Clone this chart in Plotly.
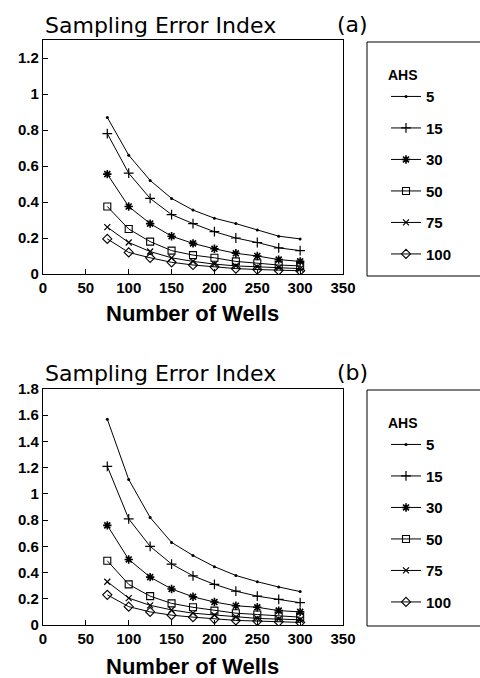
import plotly.graph_objects as go

wells = [75, 100, 125, 150, 175, 200, 225, 250, 275, 300]
ahs_labels = ["5", "15", "30", "50", "75", "100"]

# Panel (a)
a_5 = [0.87, 0.66, 0.52, 0.42, 0.355, 0.31, 0.28, 0.245, 0.21, 0.195]
a_15 = [0.78, 0.56, 0.42, 0.33, 0.28, 0.235, 0.20, 0.175, 0.145, 0.13]
a_30 = [0.555, 0.375, 0.28, 0.21, 0.17, 0.14, 0.115, 0.10, 0.08, 0.07]
a_50 = [0.375, 0.25, 0.18, 0.13, 0.105, 0.09, 0.07, 0.06, 0.05, 0.045]
a_75 = [0.26, 0.175, 0.125, 0.09, 0.07, 0.055, 0.045, 0.04, 0.035, 0.03]
a_100 = [0.195, 0.12, 0.09, 0.065, 0.05, 0.04, 0.03, 0.025, 0.02, 0.018]

# Panel (b)
b_5 = [1.57, 1.11, 0.82, 0.63, 0.53, 0.445, 0.378, 0.33, 0.29, 0.255]
b_15 = [1.21, 0.81, 0.60, 0.465, 0.375, 0.31, 0.258, 0.22, 0.195, 0.17]
b_30 = [0.76, 0.50, 0.365, 0.275, 0.215, 0.175, 0.147, 0.135, 0.11, 0.10]
b_50 = [0.49, 0.31, 0.22, 0.165, 0.135, 0.11, 0.09, 0.08, 0.07, 0.06]
b_75 = [0.33, 0.205, 0.15, 0.115, 0.09, 0.075, 0.06, 0.05, 0.045, 0.04]
b_100 = [0.23, 0.14, 0.10, 0.075, 0.06, 0.045, 0.035, 0.03, 0.025, 0.02]

panel_a = [a_5, a_15, a_30, a_50, a_75, a_100]
panel_b = [b_5, b_15, b_30, b_50, b_75, b_100]

x_ticks = [0, 50, 100, 150, 200, 250, 300, 350]
ya_ticks = [0, 0.2, 0.4, 0.6, 0.8, 1, 1.2]
yb_ticks = [0, 0.2, 0.4, 0.6, 0.8, 1, 1.2, 1.4, 1.6, 1.8]

W, H = 480, 678
FONT = "Liberation Sans, Arial, sans-serif"

markers = [
    dict(symbol="circle", size=3, color="black"),
    dict(symbol="cross-thin-open", size=7, color="black", line=dict(color="black", width=1.2)),
    dict(symbol="asterisk-open", size=7, color="black", line=dict(color="black", width=1.6)),
    dict(symbol="square-open", size=7, color="black", line=dict(color="black", width=1.1)),
    dict(symbol="x-thin-open", size=6, color="black", line=dict(color="black", width=1.2)),
    dict(symbol="diamond-open", size=7, color="black", line=dict(color="black", width=1.1)),
]

fig = go.Figure()

for i, (lab, ys) in enumerate(zip(ahs_labels, panel_a)):
    fig.add_trace(go.Scatter(
        x=wells, y=ys, mode="lines+markers", name=lab,
        line=dict(color="black", width=1), marker=markers[i],
        xaxis="x", yaxis="y", legend="legend", legendgroup="a" + lab,
    ))
for i, (lab, ys) in enumerate(zip(ahs_labels, panel_b)):
    fig.add_trace(go.Scatter(
        x=wells, y=ys, mode="lines+markers", name=lab,
        line=dict(color="black", width=1), marker=markers[i],
        xaxis="x2", yaxis="y2", legend="legend2", legendgroup="b" + lab,
    ))

def px_x(p):
    return p / W

def px_y(p):
    return 1 - p / H

tickfont = dict(family=FONT, size=15, color="black", weight="bold")
axis_common = dict(
    showline=True, linecolor="black", linewidth=1.2, mirror=True,
    ticks="inside", ticklen=5, tickcolor="black", tickwidth=1,
    showgrid=False, zeroline=False, tickfont=tickfont, automargin=False,
)

x_dom = [px_x(43), px_x(343)]
fig.update_layout(
    width=W, height=H,
    margin=dict(l=0, r=0, t=0, b=0),
    paper_bgcolor="white", plot_bgcolor="white",
    xaxis=dict(domain=x_dom, range=[0, 350], tickvals=x_ticks, anchor="y", **axis_common),
    yaxis=dict(domain=[px_y(274), px_y(40)], range=[0, 1.3], tickvals=ya_ticks, anchor="x", **axis_common),
    xaxis2=dict(domain=x_dom, range=[0, 350], tickvals=x_ticks, anchor="y2", **axis_common),
    yaxis2=dict(domain=[px_y(625), px_y(389)], range=[0, 1.8], tickvals=yb_ticks, anchor="x2", **axis_common),
)

legend_common = dict(
    bgcolor="rgba(0,0,0,0)", borderwidth=0,
    font=dict(family=FONT, size=15, color="black", weight="bold"),
    title=dict(font=dict(family=FONT, size=14, color="black", weight="bold")),
    traceorder="grouped", tracegroupgap=9, itemwidth=30,
    xanchor="left", yanchor="top",
)
fig.update_layout(
    legend=dict(x=px_x(386), y=px_y(62), title_text="AHS", **legend_common),
    legend2=dict(x=px_x(386), y=px_y(410), title_text="AHS", **legend_common),
)

# legend frames
for top, bot in [(42, 276), (390, 626)]:
    fig.add_shape(type="rect", xref="paper", yref="paper",
                  x0=px_x(367), x1=px_x(500), y0=px_y(bot), y1=px_y(top),
                  line=dict(color="black", width=1), fillcolor="rgba(0,0,0,0)")

title_font = dict(family="DejaVu Sans, sans-serif", size=22, color="black")
label_font = dict(family="DejaVu Sans, sans-serif", size=22, color="black")
xtitle_font = dict(family=FONT, size=22, color="black", weight="bold")

annos = [
    dict(text="Sampling Error Index", x=px_x(43), y=px_y(25), xanchor="left", yanchor="middle", font=title_font),
    dict(text="(a)", x=px_x(352), y=px_y(24), xanchor="center", yanchor="middle", font=label_font),
    dict(text="Number of Wells", x=px_x(192), y=px_y(313), xanchor="center", yanchor="middle", font=xtitle_font),
    dict(text="Sampling Error Index", x=px_x(43), y=px_y(373), xanchor="left", yanchor="middle", font=title_font),
    dict(text="(b)", x=px_x(352), y=px_y(372), xanchor="center", yanchor="middle", font=label_font),
    dict(text="Number of Wells", x=px_x(192), y=px_y(666), xanchor="center", yanchor="middle", font=xtitle_font),
]
for a in annos:
    fig.add_annotation(xref="paper", yref="paper", showarrow=False, **a)

fig.write_html("out.html", config={"displayModeBar": False},
               post_script="document.body.style.margin='0';")
